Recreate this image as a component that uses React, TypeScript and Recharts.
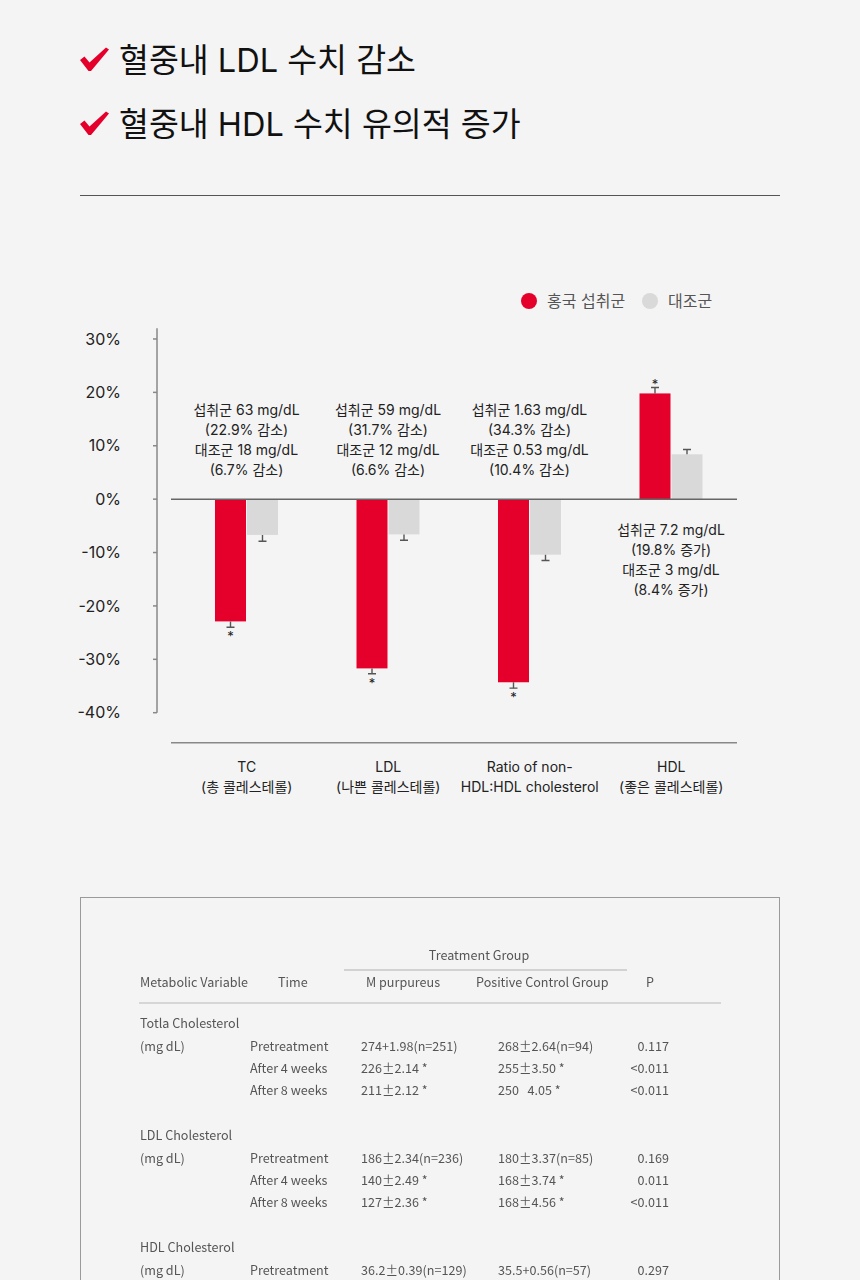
import React from 'react';
import { ComposedChart, Bar, XAxis, YAxis, ReferenceLine, LabelList, Legend } from 'recharts';

// ---- chart data ----
const categories = ['TC', 'LDL', 'Ratio', 'HDL'];
const categoryTitles = ['TC', 'LDL', 'Ratio of non-', 'HDL'];
const categorySubtitles = ['(총 콜레스테롤)', '(나쁜 콜레스테롤)', 'HDL:HDL cholesterol', '(좋은 콜레스테롤)'];
const intakeChangePct = [-22.9, -31.7, -34.3, 19.8];
const controlChangePct = [-6.7, -6.6, -10.4, 8.4];
const intakeError = [1.1, 1.0, 1.1, 1.1];
const controlError = [1.2, 1.1, 1.1, 0.9];
const intakeAmount = ['63', '59', '1.63', '7.2'];
const controlAmount = ['18', '12', '0.53', '3'];
const intakeSignificant = [true, true, true, true];
const controlSignificant = [false, false, false, false];
const yTicks = [30, 20, 10, 0, -10, -20, -30, -40];
const yDomain: [number, number] = [-40, 32];

const intakeName = '홍국 섭취군';
const controlName = '대조군';
const legendOrder = [intakeName, controlName];

// ---- headline & table text ----
const headlines = ['혈중내 LDL 수치 감소', '혈중내 HDL 수치 유의적 증가'];
const tableGroupTitle = 'Treatment Group';
const tableHeader = ['Metabolic Variable', 'Time', 'M purpureus', 'Positive Control Group', 'P'];
const tableGroupNames = ['Totla Cholesterol', 'LDL Cholesterol', 'HDL Cholesterol'];
const tableUnit = '(mg dL)';
const totalRows = [
  ['Pretreatment', '274+1.98(n=251)', '268±2.64(n=94)', '0.117'],
  ['After 4 weeks', '226±2.14 *', '255±3.50 *', '<0.011'],
  ['After 8 weeks', '211±2.12 *', '250   4.05 *', '<0.011'],
];
const ldlRows = [
  ['Pretreatment', '186±2.34(n=236)', '180±3.37(n=85)', '0.169'],
  ['After 4 weeks', '140±2.49 *', '168±3.74 *', '0.011'],
  ['After 8 weeks', '127±2.36 *', '168±4.56 *', '<0.011'],
];
const hdlRows = [
  ['Pretreatment', '36.2±0.39(n=129)', '35.5+0.56(n=57)', '0.297'],
];
const tableGroups = [totalRows, ldlRows, hdlRows];

const RED = '#e5002b';
const GREY = '#d9d9d9';
const FONT = "Inter, 'Noto Sans CJK KR', sans-serif";

const data = categories.map((category, i) => ({
  category,
  intake: intakeChangePct[i],
  control: controlChangePct[i],
  intakeErr: intakeError[i],
  controlErr: controlError[i],
  intakeSig: intakeSignificant[i],
  controlSig: controlSignificant[i],
}));

const changeText = (pct: number) => `(${Math.abs(pct).toFixed(1)}% ${pct < 0 ? '감소' : '증가'})`;

// Bar with a one-sided whisker and an optional significance star
const makeBarShape = (fill: string, valKey: string, errKey: string, sigKey: string) => (props: any) => {
  const { x, y, width, height, payload } = props;
  const val: number = payload[valKey];
  const top = Math.min(y, y + height);
  const h = Math.abs(height);
  const end = val < 0 ? top + h : top;
  const pxPerUnit = h / Math.abs(val);
  const dir = val < 0 ? 1 : -1;
  const tip = end + dir * payload[errKey] * pxPerUnit;
  const cx = x + width / 2;
  const starCenter = tip + dir * (val < 0 ? 7 : 6);
  return (
    <g>
      <rect x={x} y={top} width={width} height={h} fill={fill} />
      <line x1={cx} y1={end} x2={cx} y2={tip} stroke="#555" strokeWidth={1.4} />
      <line x1={cx - 4} y1={tip} x2={cx + 4} y2={tip} stroke="#555" strokeWidth={1.4} />
      {payload[sigKey] && (
        <text x={cx} y={starCenter + 7} textAnchor="middle" fontSize={13} fill="#222" fontFamily={FONT}>
          *
        </text>
      )}
    </g>
  );
};

// Four-line note per category: above the zero line for decreases, below for increases
const renderNote = (props: any) => {
  const { x, y, width, height, index } = props;
  const pct = intakeChangePct[index];
  const cx = x + width + 0.5;
  const zero = pct < 0 ? Math.min(y, y + height) : Math.max(y, y + height);
  const lines = [
    `섭취군 ${intakeAmount[index]} mg/dL`,
    changeText(pct),
    `대조군 ${controlAmount[index]} mg/dL`,
    changeText(controlChangePct[index]),
  ];
  const first = pct < 0 ? zero - 89 : zero + 31;
  return (
    <text textAnchor="middle" fontSize={14} fill="#222" fontFamily={FONT}>
      {lines.map((l, i) => (
        <tspan key={i} x={cx} y={first + i * 20 + 5}>
          {l}
        </tspan>
      ))}
    </text>
  );
};

const CategoryTick = (props: any) => {
  const { x, y, index } = props;
  return (
    <text textAnchor="middle" fontSize={14} fill="#222" fontFamily={FONT}>
      <tspan x={x} y={y + 29}>{categoryTitles[index]}</tspan>
      <tspan x={x} y={y + 49}>{categorySubtitles[index]}</tspan>
    </text>
  );
};

const LegendContent = (props: any) => {
  const items = [...(props.payload || [])].sort(
    (a: any, b: any) => legendOrder.indexOf(a.value) - legendOrder.indexOf(b.value)
  );
  return (
    <div style={{ display: 'flex', alignItems: 'center', fontFamily: FONT, fontSize: 16, color: '#555', lineHeight: '20px' }}>
      {items.map((p: any, i: number) => (
        <div key={i} style={{ display: 'flex', alignItems: 'center', marginRight: 17 }}>
          <span style={{ width: 16, height: 16, borderRadius: 8, background: p.color, display: 'inline-block', marginRight: 10 }} />
          <span>{p.value}</span>
        </div>
      ))}
    </div>
  );
};

const CheckMark = ({ top }: { top: number }) => (
  <svg width={30} height={26} viewBox="0 0 30 26" style={{ position: 'absolute', left: 80, top }}>
    <path d="M0 13 L4.5 9.5 L9.5 15.5 L26 0.5 L29 2.5 L11 24 L8.5 24 Z" fill={RED} />
  </svg>
);

const cellStyle: React.CSSProperties = { position: 'absolute', whiteSpace: 'pre', lineHeight: '16px' };

const DataTable = () => {
  const colX = [59, 169, 280, 417];
  return (
    <div
      style={{
        position: 'absolute', left: 80, top: 897, width: 698, height: 420,
        border: '1px solid #9a9a9a', fontFamily: "'Noto Sans CJK KR', sans-serif",
        fontSize: 12.6, color: '#555', filter: 'blur(0.5px)',
      }}
    >
      <div style={{ ...cellStyle, left: 263, top: 49, width: 270, textAlign: 'center' }}>{tableGroupTitle}</div>
      <div style={{ position: 'absolute', left: 263, top: 71, width: 283, height: 2, background: '#d2d2d2' }} />
      <div style={{ ...cellStyle, left: 59, top: 76 }}>{tableHeader[0]}</div>
      <div style={{ ...cellStyle, left: 197, top: 76 }}>{tableHeader[1]}</div>
      <div style={{ ...cellStyle, left: 285, top: 76 }}>{tableHeader[2]}</div>
      <div style={{ ...cellStyle, left: 395, top: 76 }}>{tableHeader[3]}</div>
      <div style={{ ...cellStyle, left: 565, top: 76 }}>{tableHeader[4]}</div>
      <div style={{ position: 'absolute', left: 58, top: 104, width: 582, height: 2, background: '#d6d6d6' }} />
      {tableGroups.map((rows, g) => {
        const gTop = 117 + g * 112;
        return (
          <React.Fragment key={g}>
            <div style={{ ...cellStyle, left: colX[0], top: gTop }}>{tableGroupNames[g]}</div>
            <div style={{ ...cellStyle, left: colX[0], top: gTop + 23 }}>{tableUnit}</div>
            {rows.map((r, i) => (
              <React.Fragment key={i}>
                <div style={{ ...cellStyle, left: colX[1], top: gTop + 23 + i * 22 }}>{r[0]}</div>
                <div style={{ ...cellStyle, left: colX[2], top: gTop + 23 + i * 22 }}>{r[1]}</div>
                <div style={{ ...cellStyle, left: colX[3], top: gTop + 23 + i * 22 }}>{r[2]}</div>
                <div style={{ ...cellStyle, left: 520, width: 68, textAlign: 'right', top: gTop + 23 + i * 22 }}>{r[3]}</div>
              </React.Fragment>
            ))}
          </React.Fragment>
        );
      })}
    </div>
  );
};

export default function App() {
  return (
    <div style={{ position: 'absolute', left: 0, top: 0, width: 860, height: 1280, background: '#f4f4f4', overflow: 'hidden', fontFamily: FONT }}>
      {headlines.map((h, i) => (
        <React.Fragment key={i}>
          <CheckMark top={47 + i * 64} />
          <div style={{ position: 'absolute', left: 119, top: 42 + i * 64, fontSize: 32.5, lineHeight: '38px', color: '#111', whiteSpace: 'nowrap' }}>
            {h}
          </div>
        </React.Fragment>
      ))}
      <div style={{ position: 'absolute', left: 80, top: 195, width: 700, height: 1, background: '#555' }} />

      <div style={{ position: 'absolute', left: 0, top: 250 }}>
        <ComposedChart
          width={860}
          height={560}
          data={data}
          margin={{ top: 78.3, right: 123, bottom: 17.3, left: 0 }}
          barSize={31}
          barGap={1}
        >
          <XAxis xAxisId="gap" dataKey="category" height={30} tick={false} axisLine={false} tickLine={false} />
          <XAxis
            xAxisId="main"
            dataKey="category"
            height={50}
            interval={0}
            padding={{ left: 5, right: -5 }}
            axisLine={{ stroke: '#888', strokeWidth: 1.5 }}
            tickLine={false}
            tickSize={0}
            tickMargin={0}
            tick={<CategoryTick />}
          />
          <YAxis yAxisId="gap" width={14} domain={yDomain} ticks={yTicks} tick={false} axisLine={false} tickLine={false} />
          <YAxis
            yAxisId="val"
            width={157}
            domain={yDomain}
            ticks={yTicks}
            allowDataOverflow
            tickFormatter={(v: number) => `${v}%`}
            tick={{ fontSize: 16, fill: '#222', fontFamily: FONT }}
            tickSize={4}
            tickMargin={32}
            axisLine={{ stroke: '#888', strokeWidth: 1.5 }}
            tickLine={{ stroke: '#888', strokeWidth: 1.5 }}
          />
          <Legend
            layout="horizontal"
            verticalAlign="middle"
            align="center"
            content={<LegendContent />}
            wrapperStyle={{ top: 41, left: 521, width: 260 }}
          />
          <Bar
            xAxisId="main"
            yAxisId="val"
            dataKey="intake"
            name={intakeName}
            fill={RED}
            isAnimationActive={false}
            shape={makeBarShape(RED, 'intake', 'intakeErr', 'intakeSig')}
          >
            <LabelList dataKey="intake" content={renderNote} />
          </Bar>
          <Bar
            xAxisId="main"
            yAxisId="val"
            dataKey="control"
            name={controlName}
            fill={GREY}
            isAnimationActive={false}
            shape={makeBarShape(GREY, 'control', 'controlErr', 'controlSig')}
          />
          <ReferenceLine xAxisId="main" yAxisId="val" y={0} stroke="#666" strokeWidth={1.5} />
        </ComposedChart>
      </div>

      <DataTable />
    </div>
  );
}
